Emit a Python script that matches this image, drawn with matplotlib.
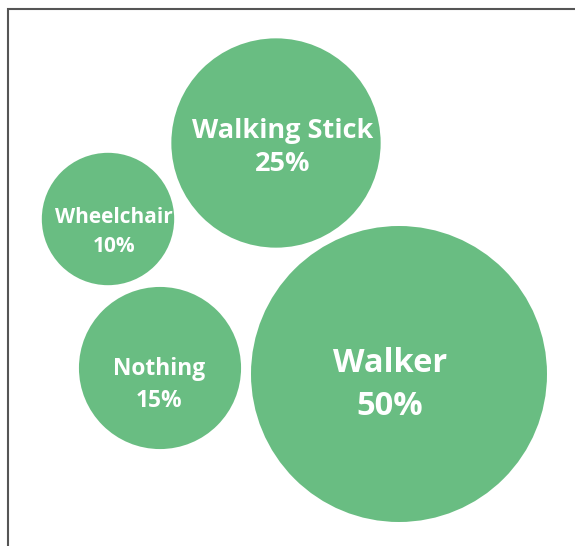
import matplotlib.pyplot as plt
from matplotlib.patches import Circle
import numpy as np

labels = ['Walking Stick', 'Wheelchair', 'Nothing', 'Walker']
shares = [25, 10, 15, 50]
# bubble centres in pixel space (layout only)
centres = [(276, 143), (108, 219), (160, 368), (399, 374)]
text_dx = [7, 6, -1, -9]
text_dy = [4.5, 13, 17, 11]
font_sizes = [19.5, 15, 16.4, 23.5]
spacing = [1.38, 1.5, 1.42, 1.4]

W, H = 575, 546
fig = plt.figure(figsize=(W / 100, H / 100), dpi=100)
ax = fig.add_axes([0, 0, 1, 1])
ax.set_xlim(0, W)
ax.set_ylim(H, 0)
ax.set_aspect('equal')
ax.axis('off')

# area proportional to the share
k = 148 / np.sqrt(50)
for i, (lab, v) in enumerate(zip(labels, shares)):
    cx, cy = centres[i]
    r = k * np.sqrt(v)
    ax.add_patch(Circle((cx, cy), r, color='#69bd82', lw=0))
    ax.text(cx + text_dx[i], cy + text_dy[i], f'{lab}\n{v}%', ha='center', va='center',
            color='white', fontsize=font_sizes[i], fontweight='bold', family='Open Sans',
            linespacing=spacing[i])

# frame around the chart area
ax.plot([8, 8, W], [H, 9, 9], color='#555555', lw=1.5, solid_joinstyle='miter')

fig.savefig('out.png', dpi=100)
